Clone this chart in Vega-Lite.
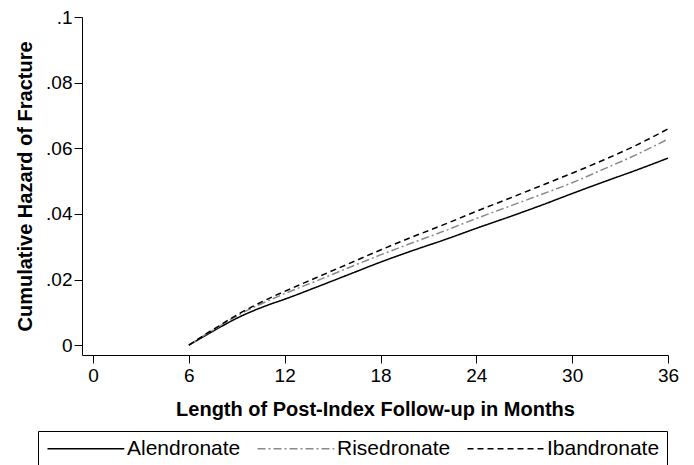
{
  "$schema": "https://vega.github.io/schema/vega-lite/v6.json",
  "width": 586,
  "height": 338,
  "autosize": {"type": "none"},
  "padding": {"left": 82, "top": 17, "right": 26, "bottom": 110},
  "background": "white",
  "config": {
    "view": {"stroke": null},
    "font": "Liberation Sans",
    "axis": {
      "domainColor": "black", "tickColor": "black", "labelColor": "black", "titleColor": "black",
      "grid": false, "domainWidth": 1, "tickWidth": 1
    },
    "legend": {
      "orient": "none", "legendX": -44, "legendY": 414,
      "direction": "horizontal", "columns": 3, "title": null,
      "strokeColor": "black", "padding": 7,
      "symbolType": "M -1 0 H 8.6", "symbolSize": 256, "symbolStrokeWidth": 1.3,
      "labelFontSize": 21, "labelColor": "black", "labelOffset": 61, "columnPadding": 13,
      "labelLimit": 300
    }
  },
  "data": {"values": [
    {"month": 6, "drug": "Alendronate", "hazard": 0},
    {"month": 7, "drug": "Alendronate", "hazard": 0.0028},
    {"month": 8, "drug": "Alendronate", "hazard": 0.0056},
    {"month": 9, "drug": "Alendronate", "hazard": 0.0082},
    {"month": 10, "drug": "Alendronate", "hazard": 0.0104},
    {"month": 11, "drug": "Alendronate", "hazard": 0.0123},
    {"month": 12, "drug": "Alendronate", "hazard": 0.014},
    {"month": 14, "drug": "Alendronate", "hazard": 0.0177},
    {"month": 16, "drug": "Alendronate", "hazard": 0.0215},
    {"month": 18, "drug": "Alendronate", "hazard": 0.0253},
    {"month": 20, "drug": "Alendronate", "hazard": 0.0288},
    {"month": 22, "drug": "Alendronate", "hazard": 0.0321},
    {"month": 24, "drug": "Alendronate", "hazard": 0.0356},
    {"month": 26, "drug": "Alendronate", "hazard": 0.039},
    {"month": 28, "drug": "Alendronate", "hazard": 0.0425},
    {"month": 30, "drug": "Alendronate", "hazard": 0.0462},
    {"month": 32, "drug": "Alendronate", "hazard": 0.0498},
    {"month": 34, "drug": "Alendronate", "hazard": 0.0533},
    {"month": 36, "drug": "Alendronate", "hazard": 0.057},
    {"month": 6, "drug": "Risedronate", "hazard": 0},
    {"month": 7, "drug": "Risedronate", "hazard": 0.0031},
    {"month": 8, "drug": "Risedronate", "hazard": 0.006},
    {"month": 9, "drug": "Risedronate", "hazard": 0.0089},
    {"month": 10, "drug": "Risedronate", "hazard": 0.0114},
    {"month": 11, "drug": "Risedronate", "hazard": 0.0136},
    {"month": 12, "drug": "Risedronate", "hazard": 0.0157},
    {"month": 14, "drug": "Risedronate", "hazard": 0.0196},
    {"month": 16, "drug": "Risedronate", "hazard": 0.0236},
    {"month": 18, "drug": "Risedronate", "hazard": 0.0275},
    {"month": 20, "drug": "Risedronate", "hazard": 0.0312},
    {"month": 22, "drug": "Risedronate", "hazard": 0.0348},
    {"month": 24, "drug": "Risedronate", "hazard": 0.0386},
    {"month": 26, "drug": "Risedronate", "hazard": 0.0422},
    {"month": 28, "drug": "Risedronate", "hazard": 0.0458},
    {"month": 30, "drug": "Risedronate", "hazard": 0.0495},
    {"month": 32, "drug": "Risedronate", "hazard": 0.0537},
    {"month": 34, "drug": "Risedronate", "hazard": 0.058},
    {"month": 36, "drug": "Risedronate", "hazard": 0.0628},
    {"month": 6, "drug": "Ibandronate", "hazard": 0},
    {"month": 7, "drug": "Ibandronate", "hazard": 0.0032},
    {"month": 8, "drug": "Ibandronate", "hazard": 0.0062},
    {"month": 9, "drug": "Ibandronate", "hazard": 0.0092},
    {"month": 10, "drug": "Ibandronate", "hazard": 0.0118},
    {"month": 11, "drug": "Ibandronate", "hazard": 0.0142},
    {"month": 12, "drug": "Ibandronate", "hazard": 0.0164},
    {"month": 14, "drug": "Ibandronate", "hazard": 0.0206},
    {"month": 16, "drug": "Ibandronate", "hazard": 0.0248},
    {"month": 18, "drug": "Ibandronate", "hazard": 0.029},
    {"month": 20, "drug": "Ibandronate", "hazard": 0.033},
    {"month": 22, "drug": "Ibandronate", "hazard": 0.0368},
    {"month": 24, "drug": "Ibandronate", "hazard": 0.0408},
    {"month": 26, "drug": "Ibandronate", "hazard": 0.0446},
    {"month": 28, "drug": "Ibandronate", "hazard": 0.0485},
    {"month": 30, "drug": "Ibandronate", "hazard": 0.0524},
    {"month": 32, "drug": "Ibandronate", "hazard": 0.0565},
    {"month": 34, "drug": "Ibandronate", "hazard": 0.0609},
    {"month": 36, "drug": "Ibandronate", "hazard": 0.0659}
  ]},
  "mark": {"type": "line", "strokeWidth": 1.5, "interpolate": "monotone"},
  "encoding": {
    "x": {
      "field": "month", "type": "quantitative",
      "scale": {"domain": [-0.69, 36], "nice": false, "zero": false},
      "axis": {
        "values": [0, 6, 12, 18, 24, 30, 36],
        "title": "Length of Post-Index Follow-up in Months",
        "titleFontSize": 20, "titleFontWeight": "bold", "titlePadding": 14,
        "labelFontSize": 19, "labelFontWeight": "normal", "tickSize": 8, "labelPadding": 3,
        "labelFlush": false, "labelOverlap": false
      }
    },
    "y": {
      "field": "hazard", "type": "quantitative",
      "scale": {"domain": [-0.003, 0.1], "nice": false, "zero": false},
      "axis": {
        "values": [0, 0.02, 0.04, 0.06, 0.08, 0.1],
        "labelExpr": "datum.value == 0 ? '0' : substring(format(datum.value, '.2~f'), 1)",
        "title": "Cumulative Hazard of Fracture",
        "titleFontSize": 20, "titleFontWeight": "bold", "titlePadding": 10,
        "labelFontSize": 19, "tickSize": 8, "labelPadding": 2,
        "labelFlush": false, "labelOverlap": false
      }
    },
    "color": {
      "field": "drug", "type": "nominal",
      "scale": {"domain": ["Alendronate", "Risedronate", "Ibandronate"], "range": ["#000000", "#8a8a8a", "#000000"]}
    },
    "strokeDash": {
      "field": "drug", "type": "nominal",
      "scale": {"domain": ["Alendronate", "Risedronate", "Ibandronate"], "range": [[1, 0], [8, 3, 2, 3], [6, 4]]}
    }
  }
}
